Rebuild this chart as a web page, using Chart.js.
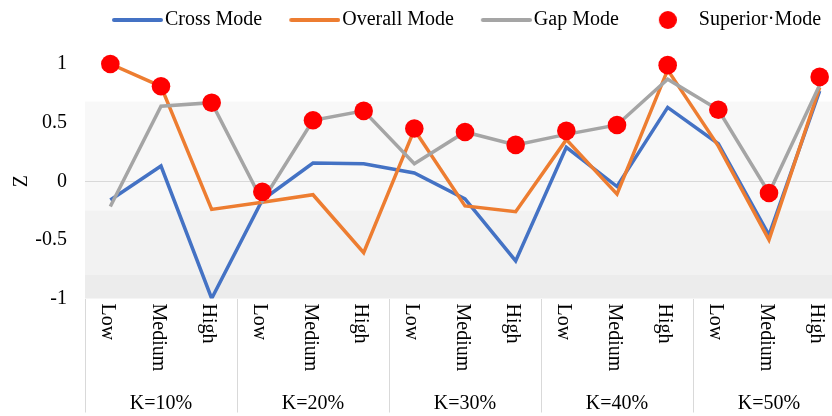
<!DOCTYPE html>
<html>
<head>
<meta charset="utf-8">
<script src="https://cdn.jsdelivr.net/npm/chart.js@4/dist/chart.umd.min.js"></script>
<style>
html,body{margin:0;padding:0;overflow:hidden;background:#fff;}
#wrap{width:860px;height:416px;position:relative;}
</style>
</head>
<body>
<div id="wrap"><canvas id="c"></canvas></div>
<script>
// ---- data ----
const categories = ['Low','Medium','High','Low','Medium','High','Low','Medium','High','Low','Medium','High','Low','Medium','High'];
const groups = ['K=10%','K=20%','K=30%','K=40%','K=50%'];
const seriesNames = ['Cross Mode','Overall Mode','Gap Mode','Superior\u00B7Mode'];
const crossMode    = [-0.16, 0.13, -1.00, -0.16, 0.155, 0.15, 0.07, -0.15, -0.68, 0.29, -0.045, 0.63, 0.32, -0.46, 0.77];
const overallMode  = [1.00, 0.81, -0.24, -0.18, -0.115, -0.61, 0.44, -0.21, -0.26, 0.355, -0.11, 0.95, 0.30, -0.50, 0.80];
const gapMode      = [-0.215, 0.64, 0.67, -0.17, 0.52, 0.60, 0.15, 0.42, 0.31, 0.40, 0.48, 0.87, 0.61, -0.10, 0.82];
const superiorMode = [1.00, 0.81, 0.67, -0.09, 0.52, 0.60, 0.45, 0.42, 0.31, 0.43, 0.48, 0.99, 0.61, -0.10, 0.89];
const yTicks = [-1, -0.5, 0, 0.5, 1];
const yTickLabels = ['-1', '-0.5', '0', '0.5', '1'];

// ---- styling helpers ----
const FONT = "'Liberation Serif','Times New Roman',serif";
Chart.defaults.font.family = FONT;
Chart.defaults.color = '#000';

function lineIcon(color){
  const c = document.createElement('canvas'); c.width = 76; c.height = 8;
  const g = c.getContext('2d'); g.strokeStyle = color; g.lineWidth = 4; g.lineCap = 'round';
  g.beginPath(); g.moveTo(27,4); g.lineTo(74,4); g.stroke(); return c;
}
function dotIcon(color){
  const c = document.createElement('canvas'); c.width = 36; c.height = 20;
  const g = c.getContext('2d'); g.fillStyle = color;
  g.beginPath(); g.arc(27,10,9,0,Math.PI*2); g.fill(); return c;
}
const colors = ['#4472C4','#ED7D31','#A5A5A5','#FF0000'];
const icons = [lineIcon(colors[0]), lineIcon(colors[1]), lineIcon(colors[2]), dotIcon(colors[3])];

const bgBands = {
  id:'bgBands',
  beforeDraw(chart){
    const {ctx, chartArea:a, scales:{y}} = chart;
    const bands = [[0.68,-0.25,'#f8f8f8'],[-0.25,-0.8,'#f2f2f2'],[-0.8,-1,'#ececec']];
    ctx.save();
    bands.forEach(([hi,lo,col])=>{
      const y1 = y.getPixelForValue(hi), y2 = y.getPixelForValue(lo);
      ctx.fillStyle = col; ctx.fillRect(a.left, y1, a.right-a.left, y2-y1);
    });
    ctx.restore();
  }
};

const legendHeight = {
  id:'legendHeight',
  beforeLayout(chart){
    const lg = chart.legend;
    if (lg && !lg._patched){
      const f = lg.fit;
      lg.fit = function(){ f.call(this); this.height = 64; };
      lg._patched = true;
    }
  }
};

const axisLabels = {
  id:'axisLabels',
  afterDraw(chart){
    const x = chart.scales.x, ctx = chart.ctx, top = chart.chartArea.bottom;
    ctx.save();
    ctx.fillStyle = '#000';
    ctx.font = "20px " + FONT;
    categories.forEach((lab,i)=>{
      const px = x.getPixelForValue(i);
      ctx.save();
      ctx.translate(px - 3, top + 5);
      ctx.rotate(Math.PI/2);
      ctx.textAlign = 'left'; ctx.textBaseline = 'middle';
      ctx.fillText(lab, 0, 0);
      ctx.restore();
    });
    groups.forEach((g,j)=>{
      const px = (x.getPixelForValue(3*j) + x.getPixelForValue(3*j+2))/2;
      ctx.textAlign = 'center'; ctx.textBaseline = 'middle';
      ctx.fillText(g, px, top + 105);
    });
    ctx.restore();
  }
};

const lineDs = (label, data, color) => ({
  type:'line', label, data, borderColor:color, backgroundColor:color,
  borderWidth:3.5, pointRadius:0, pointHoverRadius:0, tension:0, fill:false
});

new Chart(document.getElementById('c'), {
  type:'line',
  data:{
    labels: categories,
    datasets:[
      Object.assign(lineDs(seriesNames[0], crossMode, colors[0]), {order:4}),
      Object.assign(lineDs(seriesNames[1], overallMode, colors[1]), {order:3}),
      Object.assign(lineDs(seriesNames[2], gapMode, colors[2]), {order:2}),
      {type:'line', label:seriesNames[3], data:superiorMode, showLine:false, order:1,
       pointRadius:9.3, pointHoverRadius:9.3, pointBorderWidth:0,
       pointBackgroundColor:colors[3], borderColor:colors[3], backgroundColor:colors[3], clip:false}
    ]
  },
  options:{
    responsive:true, maintainAspectRatio:false, animation:false, events:[],
    layout:{padding:{left:0,right:15,top:0,bottom:0}},
    plugins:{
      tooltip:{enabled:false},
      legend:{
        position:'top', align:'start', fullSize:false,
        labels:{
          usePointStyle:true, pointStyleWidth:60, boxHeight:20, padding:10,
          font:{size:20, family:FONT}, color:'#000',
          generateLabels: chart => chart.data.datasets.map((ds,i)=>({
            text: ds.label, pointStyle: icons[i], fillStyle:'rgba(0,0,0,0)',
            strokeStyle:'rgba(0,0,0,0)', lineWidth:0, hidden:false, datasetIndex:i, fontColor:'#000'
          }))
        }
      }
    },
    scales:{
      x:{
        type:'category', offset:true,
        ticks:{display:false},
        border:{display:false},
        grid:{offset:true, drawOnChartArea:false, drawTicks:true, tickLength:114, lineWidth:1,
              color: c => (c.index % 3 === 0) ? '#d9d9d9' : 'rgba(0,0,0,0)'},
        afterFit: s => { s.height = 117.5; }
      },
      y:{
        min:-1, max:1,
        afterBuildTicks: s => { s.ticks = yTicks.map(v => ({value:v})); },
        ticks:{font:{size:20, family:FONT}, color:'#000', padding:18,
               callback: (v, i) => yTickLabels[yTicks.indexOf(v)] ?? String(v)},
        border:{display:false},
        grid:{drawTicks:false, lineWidth:1, color: c => (c.tick && c.tick.value === 0) ? '#d9d9d9' : 'rgba(0,0,0,0)'},
        title:{display:true, text:'Z', font:{size:20, family:FONT}, color:'#000', padding:{top:10,bottom:0}},
        afterFit: s => { s.width = 85; }
      }
    }
  },
  plugins:[bgBands, legendHeight, axisLabels]
});
</script>
</body>
</html>
